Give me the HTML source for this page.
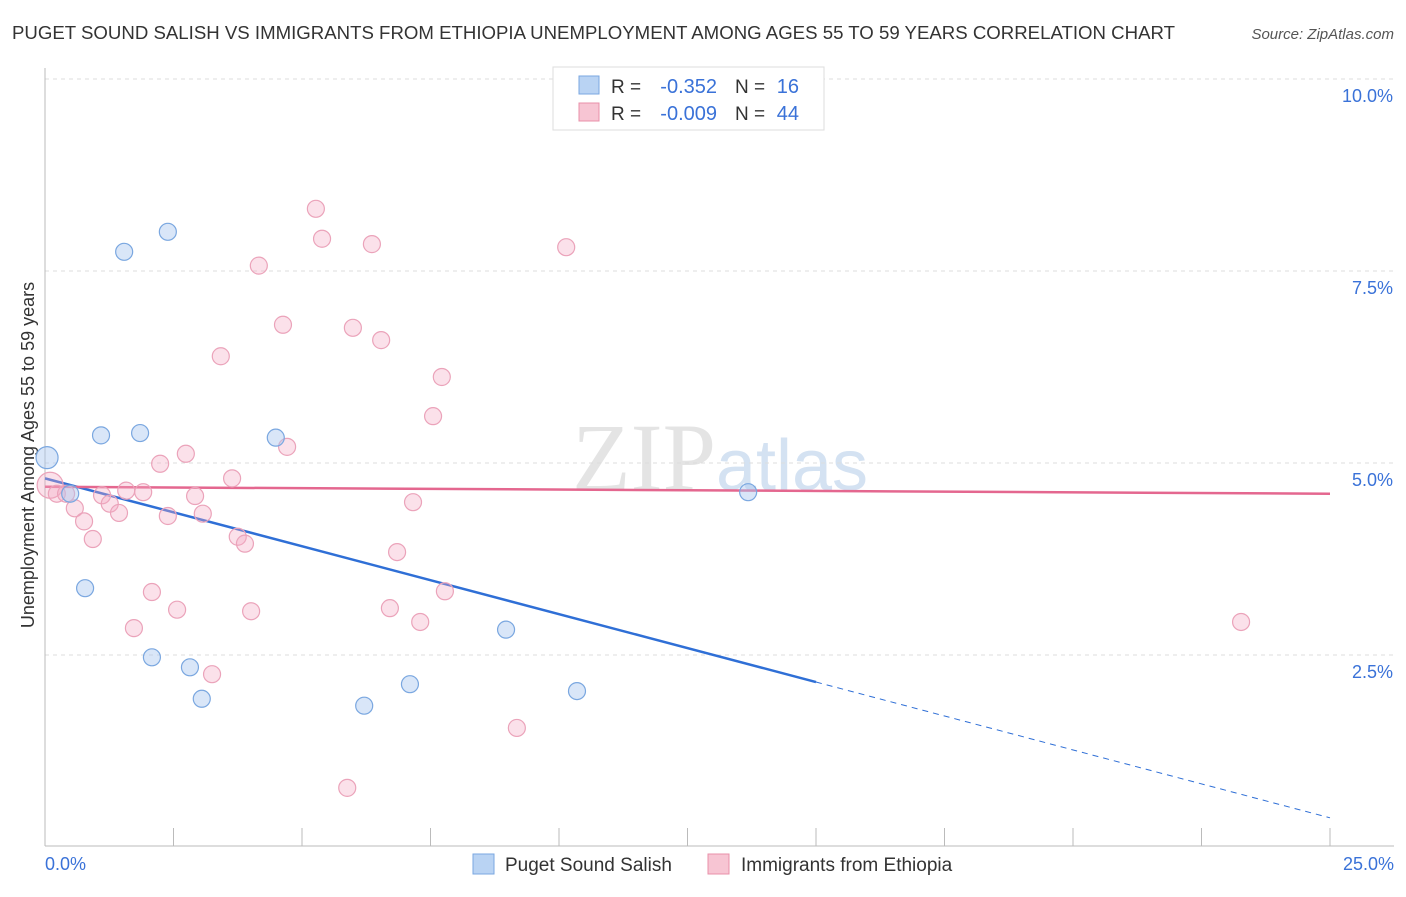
<!DOCTYPE html>
<html><head><meta charset="utf-8"><style>
body{margin:0;background:#fff;font-family:"Liberation Sans",sans-serif}
</style></head><body>
<svg id="c" width="1406" height="892" xmlns="http://www.w3.org/2000/svg">
<text x="12" y="39" font-size="18" fill="#333" textLength="1163" lengthAdjust="spacingAndGlyphs">PUGET SOUND SALISH VS IMMIGRANTS FROM ETHIOPIA UNEMPLOYMENT AMONG AGES 55 TO 59 YEARS CORRELATION CHART</text>
<text x="1394" y="39" font-size="15" fill="#555" text-anchor="end" font-style="italic">Source: ZipAtlas.com</text>
<text x="720" y="490" font-size="96" fill="#e4e4e4" text-anchor="middle" font-family="Liberation Serif,serif">ZIP<tspan fill="#d4e2f2" font-family="Liberation Sans,sans-serif" font-size="72">atlas</tspan></text>
<text transform="translate(34,455) rotate(-90)" font-size="18" fill="#333" text-anchor="middle">Unemployment Among Ages 55 to 59 years</text>
<g id="grid"></g><g id="lines"></g><g id="pts"></g>
<g>
<rect x="553" y="67" width="271" height="63" fill="#fff" stroke="#ddd"/>
<rect x="579" y="76" width="20" height="18" fill="#b9d3f3" stroke="#7aa7e0"/>
<text x="611" y="93" font-size="19" fill="#333">R =</text>
<text x="717" y="93" font-size="20" fill="#3a72d8" text-anchor="end">-0.352</text>
<text x="735" y="93" font-size="19" fill="#333">N =</text>
<text x="799" y="93" font-size="20" fill="#3a72d8" text-anchor="end">16</text>
<rect x="579" y="103" width="20" height="18" fill="#f7c5d3" stroke="#e890aa"/>
<text x="611" y="120" font-size="19" fill="#333">R =</text>
<text x="717" y="120" font-size="20" fill="#3a72d8" text-anchor="end">-0.009</text>
<text x="735" y="120" font-size="19" fill="#333">N =</text>
<text x="799" y="120" font-size="20" fill="#3a72d8" text-anchor="end">44</text>
</g>
<g>
<rect x="473" y="854" width="21" height="20" fill="#b9d3f3" stroke="#7aa7e0"/>
<text x="505" y="871" font-size="19" fill="#333">Puget Sound Salish</text>
<rect x="708" y="854" width="21" height="20" fill="#f7c5d3" stroke="#e890aa"/>
<text x="741" y="871" font-size="19" fill="#333">Immigrants from Ethiopia</text>
</g>
</svg>
<script>
const blueX=[0.04,0.49,1.09,1.85,2.39,1.54,0.78,2.08,2.82,3.05,4.49,6.21,7.10,8.97,10.35,13.68];
const blueY=[5.07,4.60,5.36,5.39,8.01,7.75,3.37,2.47,2.34,1.93,5.33,1.84,2.12,2.83,2.03,4.62];
const pinkX=[0.10,0.23,0.41,0.58,0.76,0.93,1.11,1.26,1.44,1.58,1.73,1.91,2.08,2.24,2.39,2.57,2.74,2.92,3.07,3.25,3.42,3.64,3.75,3.89,4.01,4.16,4.63,4.71,5.27,5.39,5.88,5.99,6.36,6.54,6.71,6.85,7.16,7.30,7.55,7.72,7.78,9.18,10.14,23.27];
const pinkY=[4.71,4.60,4.60,4.41,4.24,4.01,4.58,4.47,4.35,4.64,2.85,4.62,3.32,4.99,4.31,3.09,5.12,4.57,4.34,2.25,6.39,4.80,4.04,3.95,3.07,7.57,6.80,5.21,8.31,7.92,0.77,6.76,7.85,6.60,3.11,3.84,4.49,2.93,5.61,6.12,3.33,1.55,7.81,2.93];
const yTicks=[2.5,5.0,7.5,10.0];
const blueTrend=[4.80,0.38];
const pinkTrend=[4.69,4.60];
const X=v=>45+v*51.4, Y=v=>847-v*76.8;
const NS="http://www.w3.org/2000/svg";
function mk(p,t,a){const e=document.createElementNS(NS,t);for(const k in a)e.setAttribute(k,a[k]);p.appendChild(e);return e;}
const g=document.getElementById('grid');
yTicks.forEach(v=>{
 const l=mk(g,'line',{x1:45,x2:1394,y1:Y(v),y2:Y(v),stroke:'#ddd','stroke-dasharray':'4,4'});
 
 
 const t=mk(g,'text',{x:1393,y:Y(v)+23,'font-size':18,fill:'#3a72d8','text-anchor':'end'});
 t.textContent=v.toFixed(1)+'%';
 
 
});
const ax=mk(g,'line',{x1:45,x2:45,y1:68,y2:846,stroke:'#bbb'});


const bx=mk(g,'line',{x1:45,x2:1394,y1:846,y2:846,stroke:'#bbb'});


for(let i=1;i<=10;i++){const tk=mk(g,'line',{x1:X(i*2.5),x2:X(i*2.5),y1:828,y2:846,stroke:'#bbb'});
 
 }
[['0.0%',45,'start'],['25.0%',1394,'end']].forEach(a=>{const t=mk(g,'text',{x:a[1],y:870,'font-size':18,fill:'#3a72d8','text-anchor':a[2]});t.textContent=a[0];
 
 });
const L=document.getElementById('lines');
const by=x=>blueTrend[0]+(blueTrend[1]-blueTrend[0])*x/25;
const b1=mk(L,'line',{x1:X(0),y1:Y(by(0)),x2:X(15),y2:Y(by(15)),stroke:'#2f6fd6','stroke-width':2.5});


const b2=mk(L,'line',{x1:X(15),y1:Y(by(15)),x2:X(25),y2:Y(by(25)),stroke:'#2f6fd6','stroke-width':1,'stroke-dasharray':'6,5'});


const p1=mk(L,'line',{x1:X(0),y1:Y(pinkTrend[0]),x2:X(25),y2:Y(pinkTrend[1]),stroke:'#e4678f','stroke-width':2.5});


const P=document.getElementById('pts');
pinkX.forEach((x,i)=>{const c=mk(P,'circle',{cx:X(x),cy:Y(pinkY[i]),r:i==0?13:8.5,fill:'rgba(244,170,195,0.35)',stroke:'#eba3ba','stroke-width':1.2});
 
 });
blueX.forEach((x,i)=>{const c=mk(P,'circle',{cx:X(x),cy:Y(blueY[i]),r:i==0?11:8.5,fill:'rgba(170,200,240,0.45)',stroke:'#7aa7e0','stroke-width':1.2});
 
 });
</script>
</body></html>
